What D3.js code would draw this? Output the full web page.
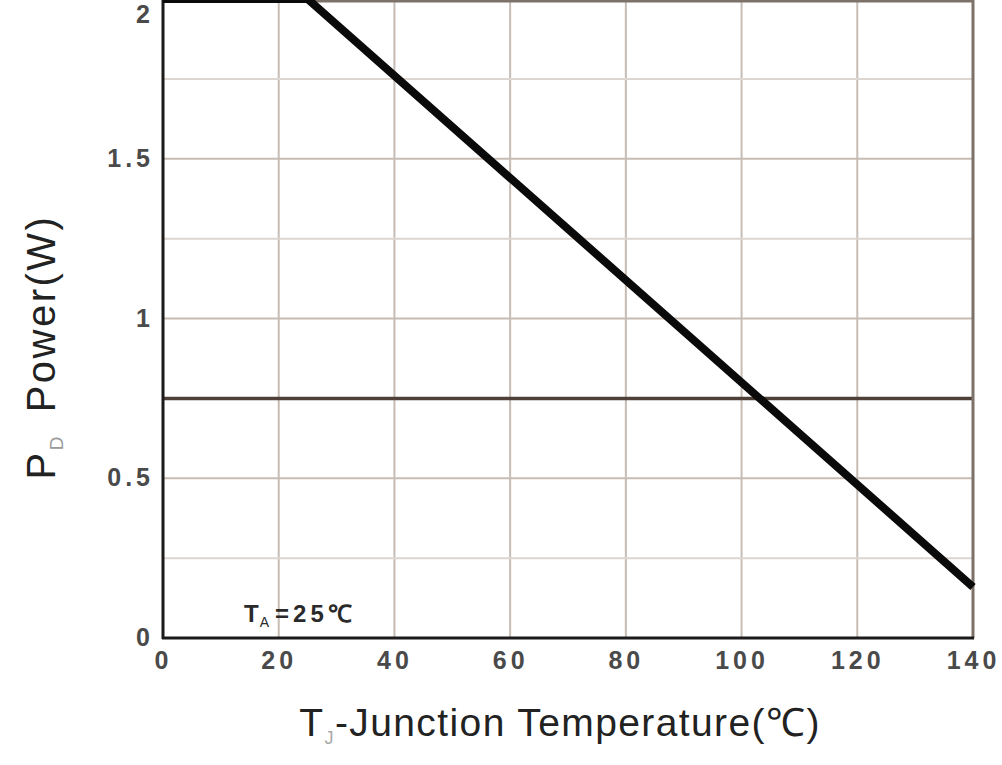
<!DOCTYPE html>
<html>
<head>
  <meta charset="utf-8">
  <title>PD vs TJ</title>
  <script src="https://cdn.jsdelivr.net/npm/d3@7"></script>
  <style>
    body { margin: 0; background: #fff; }
    svg { display: block; }
    .tick-lbl { font-family: "Liberation Sans", Arial, sans-serif; font-size: 25px; font-weight: bold; fill: #4a4a4a; letter-spacing: 4px; }
  </style>
</head>
<body>
  <div id="chart"></div>
  <script>
    // data
    const temps = [0, 25, 140]
    const power = [2, 2, 0.16]
    const xTicks = [0, 20, 40, 60, 80, 100, 120, 140]
    const yTicks = [0, 0.5, 1, 1.5, 2]
    const yMinor = [0.25, 0.75, 1.25, 1.75]

    const width = 1002
    const height = 765

    const x = d3.scaleLinear().domain([0, 140]).range([163, 973])
    const y = d3.scaleLinear().domain([0, 2]).range([638, -1])

    const svg = d3.select('#chart').append('svg')
      .attr('width', width)
      .attr('height', height)

    // grid
    svg.append('g').selectAll('line')
      .data(xTicks.slice(1, -1))
      .enter().append('line')
      .attr('x1', d => x(d)).attr('x2', d => x(d))
      .attr('y1', y(2)).attr('y2', y(0))
      .attr('stroke', '#c6bcb4').attr('stroke-width', 2)

    svg.append('g').selectAll('line')
      .data(yTicks.slice(1, -1).concat(yMinor))
      .enter().append('line')
      .attr('x1', x(0)).attr('x2', x(140))
      .attr('y1', d => y(d)).attr('y2', d => y(d))
      .attr('stroke', d => d === 0.75 ? '#4e4038' : (yMinor.includes(d) ? '#ddd5cf' : '#c6bcb4'))
      .attr('stroke-width', d => d === 0.75 ? 3.5 : 2)

    // frame: right/top gray, left/bottom dark
    svg.append('line')
      .attr('x1', x(140)).attr('x2', x(140)).attr('y1', 0).attr('y2', y(0))
      .attr('stroke', '#7d726a').attr('stroke-width', 3)
    svg.append('line')
      .attr('x1', x(0)).attr('x2', x(140)).attr('y1', 1).attr('y2', 1)
      .attr('stroke', '#7d726a').attr('stroke-width', 3)

    const xAxis = d3.axisBottom(x).tickValues(xTicks).tickSize(0).tickPadding(13)
    const gx = svg.append('g').attr('transform', `translate(0,${y(0)})`).call(xAxis)
    gx.select('.domain').attr('stroke', '#1c1a1a').attr('stroke-width', 3)
      .attr('d', `M${x(0) - 1},0H${x(140) + 1}`)
    gx.selectAll('text').attr('class', 'tick-lbl').attr('font-size', null).attr('font-family', null).attr('fill', null)

    const yAxis = d3.axisLeft(y).tickValues(yTicks).tickSize(0).tickPadding(9)
      .tickFormat(d3.format('~g'))
    const gy = svg.append('g').attr('transform', `translate(${x(0)},0)`).call(yAxis)
    gy.select('.domain').attr('stroke', '#1c1a1a').attr('stroke-width', 3)
      .attr('d', `M0,0V${y(0) + 1}`)
    gy.selectAll('text').attr('class', 'tick-lbl').attr('font-size', null).attr('font-family', null).attr('fill', null)
      .attr('dy', d => d === 2 ? '0.95em' : '0.3em')

    // derating curve
    const line = d3.line().x(d => x(d[0])).y(d => y(d[1]))
    svg.append('path')
      .datum(d3.zip(temps, power))
      .attr('d', line)
      .attr('fill', 'none')
      .attr('stroke', '#0a0a0a')
      .attr('stroke-width', 8)
      .attr('stroke-linejoin', 'miter')

    // annotation
    const ann = svg.append('text')
      .attr('x', x(14)).attr('y', y(0.05))
      .attr('font-family', '"Liberation Sans", Arial, sans-serif')
      .attr('font-size', 24).attr('font-weight', 'bold').attr('fill', '#2a2a2a')
    ann.append('tspan').text('T')
    ann.append('tspan').text('A').attr('font-size', 14).attr('dy', 5).attr('font-weight', 'normal')
      .attr('dx', 1)
    ann.append('tspan').text('=25℃').attr('dy', -5).attr('dx', 6).attr('letter-spacing', 4)

    // axis titles
    const xt = svg.append('text')
      .attr('x', 560).attr('y', 736)
      .attr('text-anchor', 'middle')
      .attr('font-family', '"Liberation Sans", Arial, sans-serif')
      .attr('font-size', 39).attr('fill', '#222')
      .attr('letter-spacing', 1.4)
    xt.append('tspan').text('T')
    xt.append('tspan').text('J').attr('font-size', 18).attr('dy', 8).attr('fill', '#aaa')
    xt.append('tspan').text('-Junction Temperature(℃)').attr('dy', -8)

    const yt = svg.append('text')
      .attr('transform', 'translate(55,347) rotate(-90)')
      .attr('text-anchor', 'middle')
      .attr('font-family', '"Liberation Sans", Arial, sans-serif')
      .attr('font-size', 40).attr('fill', '#222')
      .attr('letter-spacing', 2.5)
    yt.append('tspan').text('P')
    yt.append('tspan').text('D').attr('font-size', 19).attr('dy', 8).attr('fill', '#999')
    yt.append('tspan').text(' Power(W)').attr('dy', -8).attr('dx', 8)
  </script>
</body>
</html>
